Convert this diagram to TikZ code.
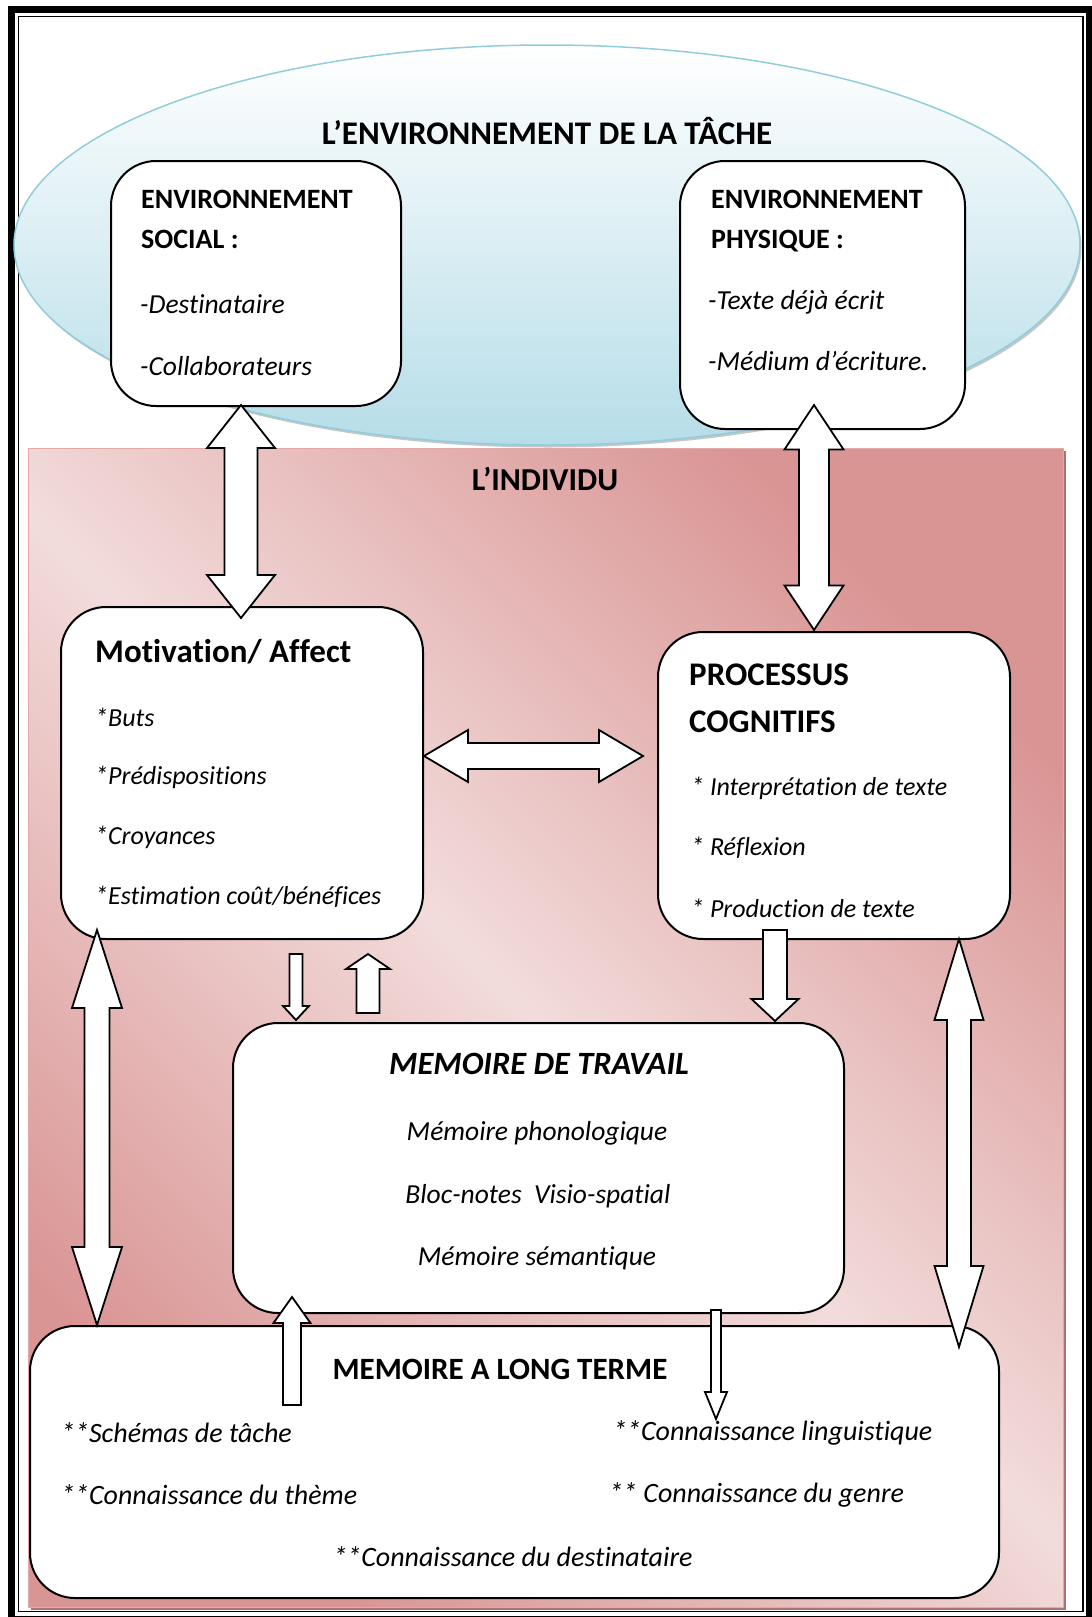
\documentclass[tikz,border=0pt]{standalone}
\usepackage{fontspec}
\setmainfont{Carlito}[Ligatures=NoCommon]
\usetikzlibrary{shapes.geometric,calc}
\definecolor{pinkdark}{HTML}{D99594}
\definecolor{pinklight}{HTML}{F2DCDB}
\definecolor{pinkedge}{HTML}{E3A9A8}
\definecolor{pinkshadow}{HTML}{A87272}
\definecolor{ellblue}{HTML}{B6DDE8}
\definecolor{elledge}{HTML}{92CDDC}
\pgfdeclarehorizontalshading{pinkdiag}{100bp}{color(0bp)=(pinkdark); color(25bp)=(pinkdark); color(50bp)=(pinklight); color(75bp)=(pinkdark); color(100bp)=(pinkdark)}

% double vertical block arrow: #1 top tip, #2 bottom tip, #3 shaft half, #4 head half, #5 head length
\newcommand\VDarrow[5]{\draw[blockarrow] let \p1=(#1), \p2=(#2) in
 (\x1,\y1) -- ({\x1+#4pt},{\y1-#5pt}) -- ({\x1+#3pt},{\y1-#5pt}) -- ({\x1+#3pt},{\y2+#5pt}) -- ({\x1+#4pt},{\y2+#5pt}) -- (\x1,\y2)
 -- ({\x1-#4pt},{\y2+#5pt}) -- ({\x1-#3pt},{\y2+#5pt}) -- ({\x1-#3pt},{\y1-#5pt}) -- ({\x1-#4pt},{\y1-#5pt}) -- cycle;}
% single down arrow: #1 tail (top), #2 tip (bottom)
\newcommand\SDarrow[5]{\draw[blockarrow] let \p1=(#1), \p2=(#2) in
 ({\x1-#3pt},\y1) -- ({\x1+#3pt},\y1) -- ({\x1+#3pt},{\y2+#5pt}) -- ({\x1+#4pt},{\y2+#5pt}) -- (\x1,\y2)
 -- ({\x1-#4pt},{\y2+#5pt}) -- ({\x1-#3pt},{\y2+#5pt}) -- cycle;}
% single up arrow: #1 tail (bottom), #2 tip (top)
\newcommand\SUarrow[5]{\draw[blockarrow] let \p1=(#1), \p2=(#2) in
 ({\x1-#3pt},\y1) -- ({\x1+#3pt},\y1) -- ({\x1+#3pt},{\y2-#5pt}) -- ({\x1+#4pt},{\y2-#5pt}) -- (\x1,\y2)
 -- ({\x1-#4pt},{\y2-#5pt}) -- ({\x1-#3pt},{\y2-#5pt}) -- cycle;}
% double horizontal arrow: #1 left tip, #2 right tip
\newcommand\HDarrow[5]{\draw[blockarrow] let \p1=(#1), \p2=(#2) in
 (\x1,\y1) -- ({\x1+#5pt},{\y1+#4pt}) -- ({\x1+#5pt},{\y1+#3pt}) -- ({\x2-#5pt},{\y1+#3pt}) -- ({\x2-#5pt},{\y1+#4pt}) -- (\x2,\y1)
 -- ({\x2-#5pt},{\y1-#4pt}) -- ({\x2-#5pt},{\y1-#3pt}) -- ({\x1+#5pt},{\y1-#3pt}) -- ({\x1+#5pt},{\y1-#4pt}) -- cycle;}

\tikzset{
  roundbox/.style={draw=black, line width=2pt, fill=white, rounded corners=45pt, anchor=north west, inner sep=0pt},
  blockarrow/.style={draw=black, line width=1.8pt, fill=white, line join=miter},
  txt/.style={inner sep=0pt, text=black},
  fTitle/.style={txt, font=\fontsize{33pt}{39pt}\selectfont\bfseries},
  fIndiv/.style={txt, font=\fontsize{32pt}{38pt}\selectfont\bfseries},
  fHead/.style={txt, font=\fontsize{28pt}{34pt}\selectfont\bfseries},
  fBig/.style={txt, font=\fontsize{33pt}{40pt}\selectfont\bfseries},
  fMem/.style={txt, font=\fontsize{31pt}{37pt}\selectfont\bfseries},
  fMemIt/.style={txt, font=\fontsize{32.5pt}{39pt}\selectfont\bfseries\itshape},
  fEnvItem/.style={txt, font=\fontsize{27.5pt}{33pt}\selectfont\itshape},
  fMdt/.style={txt, font=\fontsize{27.5pt}{33pt}\selectfont\itshape},
  fItem/.style={txt, font=\fontsize{26pt}{31pt}\selectfont\itshape},
  fLtm/.style={txt, font=\fontsize{28pt}{33pt}\selectfont\itshape},
}

\begin{document}
\begin{tikzpicture}[x=1pt,y=-1pt]
\useasboundingbox (0,0) rectangle (1092,1617);
\fill[white] (0,0) rectangle (1092,1617);
% outer frame
\draw[line width=7pt] (11.5,9.5) rectangle (1089.5,1619);
\draw[line width=1.5pt] (18.5,16.5) rectangle (1083,1611.5);

% L'individu area
\fill[pinkshadow] (31,451) rectangle (1066,1610);
\node[shade, shading=pinkdiag, shading angle=45, draw=pinkedge, line width=1.2pt, anchor=north west,
      minimum width=1035pt, minimum height=1159pt, inner sep=0pt] (indiv) at (28,448) {};

% task environment ellipse
\node[ellipse, fill=gray!45, minimum width=1066pt, minimum height=400pt, inner sep=0pt] (envshadow) at (548.5,247.5) {};
\node[ellipse, draw=elledge, line width=1.5pt, top color=white, bottom color=ellblue,
      minimum width=1066pt, minimum height=400pt, inner sep=0pt] (env) at (547,245) {};

% boxes
\node[roundbox, minimum width=290pt, minimum height=245pt] (soc) at (110,160) {};
\node[roundbox, minimum width=285pt, minimum height=268pt] (phy) at (679,160) {};
\node[roundbox, minimum width=362pt, minimum height=332pt] (mot) at (60,606) {};
\node[roundbox, minimum width=352pt, minimum height=307pt] (proc) at (657,631) {};
\node[roundbox, minimum width=611pt, minimum height=290pt] (mdt) at (232,1022) {};
\node[roundbox, minimum width=969pt, minimum height=272pt] (ltm) at (29,1325) {};

% texts
\node[fTitle] (envtitle) at (547,131) {L’ENVIRONNEMENT DE LA TÂCHE};
\node[fHead, anchor=base west] (soc1) at (141,208) {ENVIRONNEMENT};
\node[fHead, anchor=base west] (soc2) at (141,248) {SOCIAL :};
\node[fEnvItem, anchor=west] (soc3) at (140,304) {-Destinataire};
\node[fEnvItem, anchor=west] (soc4) at (140,366) {-Collaborateurs};
\node[fHead, anchor=base west] (phy1) at (711,208) {ENVIRONNEMENT};
\node[fHead, anchor=base west] (phy2) at (711,248) {PHYSIQUE :};
\node[fEnvItem, anchor=west] (phy3) at (708,302) {-Texte déjà écrit};
\node[fEnvItem, anchor=west] (phy4) at (708,361) {-Médium d’écriture.};

\node[fIndiv] (indivtitle) at (545,479) {L’INDIVIDU};

\node[fBig, anchor=base west] (mot1) at (95,662) {Motivation/ Affect};
\node[fItem, anchor=west] (mot2) at (95,717) {*Buts};
\node[fItem, anchor=west] (mot3) at (95,777) {*Prédispositions};
\node[fItem, anchor=west] (mot4) at (95,837) {*Croyances};
\node[fItem, anchor=west] (mot5) at (95,897) {*Estimation coût/bénéfices};

\node[fBig, anchor=west] (proc1) at (689,675) {PROCESSUS};
\node[fBig, anchor=west] (proc2) at (689,722) {COGNITIFS};
\node[fItem, anchor=west] (proc3) at (691,788) {* Interprétation de texte};
\node[fItem, anchor=west] (proc4) at (691,848) {* Réflexion};
\node[fItem, anchor=west] (proc5) at (691,908) {* Production de texte};

\node[fMemIt] (mdt1) at (539,1064) {MEMOIRE DE TRAVAIL};
\node[fMdt] (mdt2) at (537,1133) {Mémoire phonologique};
\node[fMdt] (mdt3) at (538,1196) {Bloc-notes\ \ Visio-spatial};
\node[fMdt] (mdt4) at (537,1258) {Mémoire sémantique};

\node[fMem] (ltm1) at (500,1369) {MEMOIRE A LONG TERME};
\node[fLtm, anchor=west] (ltm2) at (61,1433) {**Schémas de tâche};
\node[fLtm, anchor=west] (ltm3) at (61,1495) {**Connaissance du thème};
\node[fLtm, anchor=west] (ltm4) at (613,1433) {**Connaissance linguistique};
\node[fLtm, anchor=west] (ltm5) at (609,1495) {** Connaissance du genre};
\node[fLtm] (ltm6) at (513,1557) {**Connaissance du destinataire};

% arrow end points
\coordinate (a1t) at (241,405);  \coordinate (a1b) at (241,618);
\coordinate (a2t) at (814,405);  \coordinate (a2b) at (814,630);
\coordinate (a3l) at (424,756);  \coordinate (a3r) at (643,756);
\coordinate (a4t) at (97,930);   \coordinate (a4b) at (97,1325);
\coordinate (a5t) at (296,954);  \coordinate (a5b) at (296,1020);
\coordinate (a6b) at (368,1013); \coordinate (a6t) at (368,954);
\coordinate (a7t) at (775,930);  \coordinate (a7b) at (775,1021);
\coordinate (a8t) at (959,939);  \coordinate (a8b) at (959,1347);
\coordinate (a9b) at (292,1405); \coordinate (a9t) at (292,1297);
\coordinate (a10t) at (716,1310); \coordinate (a10b) at (716,1419);

% arrows
\VDarrow{a1t}{a1b}{16.5}{34}{43}
\VDarrow{a2t}{a2b}{15}{29.5}{44.5}
\HDarrow{a3l}{a3r}{13}{26}{44}
\VDarrow{a4t}{a4b}{12.5}{25}{78}
\SDarrow{a5t}{a5b}{6.5}{13}{14}
\SUarrow{a6b}{a6t}{11.5}{22}{15}
\SDarrow{a7t}{a7b}{12}{23.5}{22}
\VDarrow{a8t}{a8b}{12}{24.5}{81}
\SUarrow{a9b}{a9t}{9}{18.5}{26}
\SDarrow{a10t}{a10b}{5}{11}{27}
\end{tikzpicture}
\end{document}
